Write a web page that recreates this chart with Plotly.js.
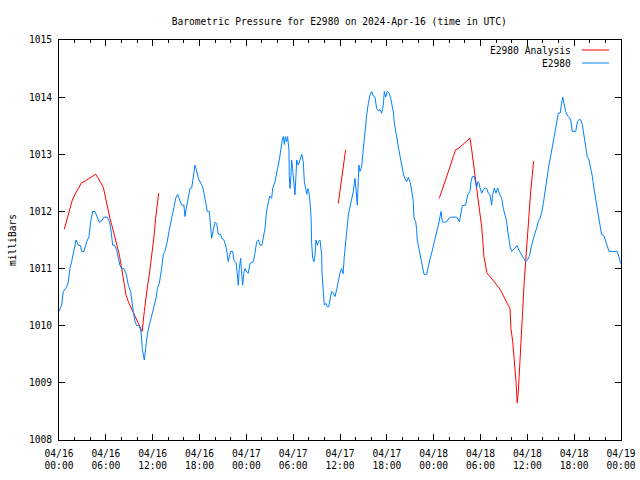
<!DOCTYPE html>
<html>
<head>
<meta charset="utf-8">
<script src="https://cdn.plot.ly/plotly-3.0.1.min.js"></script>
<style>html,body{margin:0;padding:0;background:#fff;}#chart{width:640px;height:480px;}</style>
</head>
<body>
<div id="chart"></div>
<script>
// Hours since 2024-04-16 00:00 UTC
const blueHours = [0,0.34,0.55,0.98,1.2,1.41,1.62,1.92,2.18,2.48,2.75,2.9,3.2,3.55,3.84,4.06,4.31,4.6,4.91,5.17,5.45,5.76,6.2,6.45,6.6,6.88,7.17,7.39,7.6,7.8,8.03,8.3,8.58,8.88,9.18,9.31,9.52,9.74,9.95,10.3,10.5,10.67,10.93,11.1,11.31,11.57,11.87,12.17,12.43,12.6,12.85,13.15,13.36,13.58,13.87,14.09,14.3,14.52,14.73,14.94,15.2,15.5,15.71,16.0,16.14,16.3,16.57,16.78,17.0,17.21,17.42,17.6,17.85,18.15,18.4,18.62,18.8,19.0,19.25,19.43,19.56,19.8,19.98,20.2,20.41,20.7,20.85,21.1,21.35,21.56,21.69,21.8,22.0,22.25,22.42,22.7,22.84,22.97,23.1,23.27,23.4,23.53,23.7,23.83,24.05,24.25,24.47,24.68,24.9,25.1,25.32,25.55,25.75,26.0,26.17,26.4,26.6,26.8,27.0,27.25,27.37,27.67,27.88,28.0,28.22,28.4,28.6,28.74,28.87,29.0,29.15,29.29,29.46,29.5,29.6,29.72,29.8,29.93,30.1,30.23,30.36,30.45,30.66,30.88,31.1,31.3,31.43,31.6,31.74,31.87,32.0,32.16,32.3,32.37,32.5,32.67,32.8,32.92,33.1,33.22,33.44,33.65,33.7,33.86,33.99,34.2,34.37,34.55,34.72,34.93,35.15,35.36,35.57,35.78,36.0,36.2,36.4,36.55,36.7,36.85,37.07,37.28,37.5,37.71,37.92,38.0,38.13,38.22,38.35,38.43,38.56,38.77,38.98,39.2,39.42,39.63,39.84,40.05,40.27,40.48,40.7,40.9,41.13,41.34,41.55,41.68,41.85,42.06,42.28,42.5,42.7,42.85,42.96,43.13,43.34,43.47,43.68,43.9,44.1,44.3,44.54,44.75,44.97,45.18,45.39,45.48,45.7,45.82,45.9,46.1,46.33,46.46,46.6,46.76,47.1,47.31,47.5,47.74,47.95,48.17,48.38,48.6,48.8,48.94,49.1,49.35,49.65,50.0,50.3,50.94,51.3,51.45,51.67,52.1,52.35,52.65,52.78,52.95,53.2,53.38,53.5,53.64,53.8,53.94,54.15,54.36,54.58,54.8,55.0,55.2,55.43,55.56,55.77,55.98,56.2,56.4,56.71,56.93,57.14,57.35,57.5,57.65,57.8,57.99,58.2,58.5,58.7,58.9,59.15,59.35,59.57,59.78,60.0,60.25,60.56,60.78,60.98,61.2,61.4,61.62,61.83,62.05,62.26,62.48,62.6,62.77,62.98,63.2,63.4,63.63,63.77,63.97,64.2,64.4,64.53,64.7,64.91,65.17,65.4,65.55,65.76,66.2,66.42,66.63,66.85,67.04,67.25,67.47,67.68,67.9,68.11,68.33,68.54,68.75,68.96,69.18,69.3,69.5,69.8,70.0,70.25,70.46,70.8,71.23,71.5,71.75,71.95];
const bluePressure = [1010.25,1010.36,1010.60,1010.68,1010.77,1011.01,1011.12,1011.36,1011.50,1011.41,1011.40,1011.30,1011.30,1011.47,1011.56,1011.82,1012.0,1012.0,1011.88,1011.81,1011.83,1011.90,1011.90,1011.82,1011.73,1011.41,1011.40,1011.32,1011.18,1011.06,1011.0,1011.0,1010.92,1010.71,1010.60,1010.42,1010.25,1010.07,1010.0,1010.0,1009.9,1009.6,1009.4,1009.6,1009.84,1010.01,1010.16,1010.30,1010.48,1010.65,1010.74,1011.0,1011.24,1011.31,1011.47,1011.65,1011.82,1011.94,1012.07,1012.23,1012.30,1012.20,1012.11,1012.11,1011.91,1012.05,1012.23,1012.40,1012.41,1012.58,1012.81,1012.73,1012.58,1012.50,1012.43,1012.29,1012.14,1012.0,1012.0,1011.73,1011.53,1011.7,1011.81,1011.79,1011.6,1011.6,1011.53,1011.51,1011.41,1011.24,1011.12,1011.2,1011.3,1011.3,1011.14,1011.1,1010.83,1010.71,1011.0,1011.18,1010.9,1010.71,1010.94,1011.0,1010.94,1010.92,1011.09,1011.1,1011.12,1011.26,1011.47,1011.5,1011.41,1011.41,1011.53,1011.71,1012.02,1012.17,1012.27,1012.23,1012.40,1012.52,1012.64,1012.75,1012.90,1013.1,1013.25,1013.31,1013.17,1013.31,1013.22,1013.31,1013.08,1012.63,1012.4,1012.63,1012.9,1012.75,1012.52,1012.29,1012.63,1012.9,1012.81,1012.9,1013.0,1012.87,1012.52,1012.40,1012.3,1012.4,1012.35,1012.17,1011.88,1011.44,1011.18,1011.12,1011.24,1011.5,1011.41,1011.47,1011.5,1011.24,1010.92,1010.6,1010.36,1010.39,1010.33,1010.33,1010.48,1010.6,1010.57,1010.51,1010.63,1010.8,1010.92,1011.0,1010.91,1011.21,1011.44,1011.73,1011.94,1012.08,1012.23,1012.35,1012.58,1012.46,1012.35,1012.11,1012.58,1012.81,1012.7,1012.78,1013.08,1013.43,1013.69,1013.89,1014.04,1014.1,1014.02,1014.0,1013.8,1013.76,1013.78,1013.72,1013.86,1014.1,1014.0,1014.1,1014.07,1013.98,1013.86,1013.72,1013.54,1013.37,1013.25,1013.13,1012.96,1012.78,1012.67,1012.58,1012.52,1012.6,1012.52,1012.37,1012.17,1011.88,1011.82,1011.68,1011.5,1011.36,1011.18,1011.06,1010.97,1010.9,1010.9,1011.06,1011.15,1011.27,1011.41,1011.53,1011.64,1011.76,1011.91,1012.0,1011.82,1011.81,1011.82,1011.89,1011.9,1011.9,1011.82,1011.97,1012.1,1012.11,1012.29,1012.35,1012.52,1012.61,1012.61,1012.5,1012.41,1012.52,1012.5,1012.41,1012.32,1012.38,1012.41,1012.4,1012.32,1012.3,1012.11,1012.3,1012.41,1012.32,1012.41,1012.32,1012.23,1012.05,1011.94,1011.82,1011.65,1011.5,1011.38,1011.3,1011.33,1011.37,1011.4,1011.33,1011.27,1011.21,1011.17,1011.12,1011.15,1011.21,1011.41,1011.54,1011.62,1011.71,1011.82,1011.88,1011.97,1012.14,1012.35,1012.52,1012.69,1012.81,1012.96,1013.16,1013.28,1013.45,1013.57,1013.72,1013.72,1013.92,1014.0,1013.89,1013.75,1013.67,1013.64,1013.6,1013.4,1013.4,1013.57,1013.61,1013.6,1013.52,1013.35,1013.1,1012.96,1012.9,1012.78,1012.61,1012.4,1012.23,1012.05,1011.91,1011.76,1011.6,1011.58,1011.5,1011.38,1011.3,1011.3,1011.3,1011.3,1011.2,1011.09];

// Analysis series (null = gap between analysis runs)
const analysisHours = [0.68,0.98,1.28,1.71,2.13,2.56,2.9,3.33,3.76,4.19,4.69,5.04,5.38,5.68,5.98,6.24,6.53,6.83,7.17,7.47,7.73,8.03,8.33,8.58,8.88,9.31,9.74,10.16,10.65,10.93,11.1,11.36,11.57,11.79,12.0,12.17,12.38,12.6,12.77,
  null,
  35.78,36.0,36.21,36.42,36.55,36.72,
  null,
  48.72,49.24,49.66,50.09,50.51,50.81,51.15,51.59,52.0,52.43,52.65,52.87,53.08,53.3,53.51,53.72,53.94,54.15,54.27,54.44,54.66,54.79,55.22,55.65,56.07,56.5,56.84,57.14,57.43,57.78,57.9,58.12,58.29,58.42,58.55,58.63,58.71,58.84,58.97,59.14,59.27,59.4,59.57,59.79,59.99,60.21,60.43,60.64,60.81];
const analysisPressure = [1011.69,1011.85,1012.02,1012.2,1012.32,1012.43,1012.5,1012.53,1012.57,1012.6,1012.65,1012.58,1012.5,1012.42,1012.23,1012.05,1011.88,1011.73,1011.56,1011.38,1011.24,1011.0,1010.77,1010.54,1010.42,1010.30,1010.17,1010.06,1009.90,1010.25,1010.48,1010.71,1010.89,1011.12,1011.41,1011.56,1011.88,1012.08,1012.32,
  null,
  1012.14,1012.35,1012.58,1012.78,1012.96,1013.08,
  null,
  1012.23,1012.43,1012.61,1012.78,1012.96,1013.08,1013.1,1013.15,1013.2,1013.25,1013.28,1013.08,1012.87,1012.64,1012.4,1012.23,1011.94,1011.73,1011.53,1011.21,1011.06,1010.93,1010.86,1010.78,1010.72,1010.64,1010.55,1010.48,1010.39,1010.30,1009.95,1009.73,1009.49,1009.26,1009.02,1008.82,1008.65,1008.84,1009.14,1009.49,1009.78,1010.25,1010.71,1011.18,1011.53,1011.94,1012.35,1012.64,1012.88];

const xTickVals = [0,6,12,18,24,30,36,42,48,54,60,66,72];
const xTickText = ["04/16<br>00:00","04/16<br>06:00","04/16<br>12:00","04/16<br>18:00","04/17<br>00:00","04/17<br>06:00","04/17<br>12:00","04/17<br>18:00","04/18<br>00:00","04/18<br>06:00","04/18<br>12:00","04/18<br>18:00","04/19<br>00:00"];
const yTickVals = [1008,1009,1010,1011,1012,1013,1014,1015];
const seriesNames = ["E2980 Analysis","E2980"];
const seriesColors = ["#ff0000","#0080ff"];

const FONT = "DejaVu Sans Mono, monospace";
const fs = 9.6;

const traces = [
  {x: analysisHours, y: analysisPressure, type:'scatter', mode:'lines', name: seriesNames[0],
   line:{color: seriesColors[0], width:1}, connectgaps:false, hoverinfo:'skip'},
  {x: blueHours, y: bluePressure, type:'scatter', mode:'lines', name: seriesNames[1],
   line:{color: seriesColors[1], width:1}, hoverinfo:'skip'}
];

// legend drawn gnuplot-style: right-aligned text, line sample on the right
const legY = [0.975, 0.9425];
const annotations = seriesNames.map((n,i)=>({
  xref:'paper', yref:'paper', x:0.9146, y:legY[i], xanchor:'right', yanchor:'middle',
  text:n, showarrow:false, font:{family:FONT, size:fs, color:'#000'}
}));
const shapes = seriesNames.map((n,i)=>({
  type:'line', xref:'paper', yref:'paper', x0:0.9306, x1:0.9786, y0:legY[i], y1:legY[i],
  line:{color:seriesColors[i], width:1}
}));

const layout = {
  width:640, height:480,
  margin:{l:59, r:19, t:40, b:40, pad:0},
  paper_bgcolor:'#fff', plot_bgcolor:'#fff',
  showlegend:false,
  title:{text:'Barometric Pressure for E2980 on 2024-Apr-16 (time in UTC)',
         font:{family:FONT, size:fs, color:'#000'},
         x:0.53, xanchor:'center', y:1-22/480, yanchor:'middle', xref:'container', yref:'container'},
  xaxis:{range:[0,72], tickmode:'array', tickvals:xTickVals, ticktext:xTickText,
         ticks:'inside', ticklen:6, tickwidth:1, tickcolor:'#000',
         showline:true, linecolor:'#000', linewidth:1, mirror:'ticks',
         showgrid:false, zeroline:false, ticklabelstandoff:4,
         minor:{dtick:2, tick0:0, ticks:'inside', ticklen:3, tickwidth:1, tickcolor:'#000', showgrid:false},
         tickfont:{family:FONT, size:fs, color:'#000'}, fixedrange:true},
  yaxis:{range:[1008,1015], tickmode:'array', tickvals:yTickVals,
         ticks:'inside', ticklen:6, tickwidth:1, tickcolor:'#000',
         showline:true, linecolor:'#000', linewidth:1, mirror:'ticks',
         showgrid:false, zeroline:false, ticklabelstandoff:4,
         tickfont:{family:FONT, size:fs, color:'#000'},
         title:{text:'milliBars', font:{family:FONT, size:fs, color:'#000'}, standoff:10},
         fixedrange:true},
  annotations: annotations,
  shapes: shapes
};

Plotly.newPlot('chart', traces, layout, {displayModeBar:false, staticPlot:true});
</script>
</body>
</html>
